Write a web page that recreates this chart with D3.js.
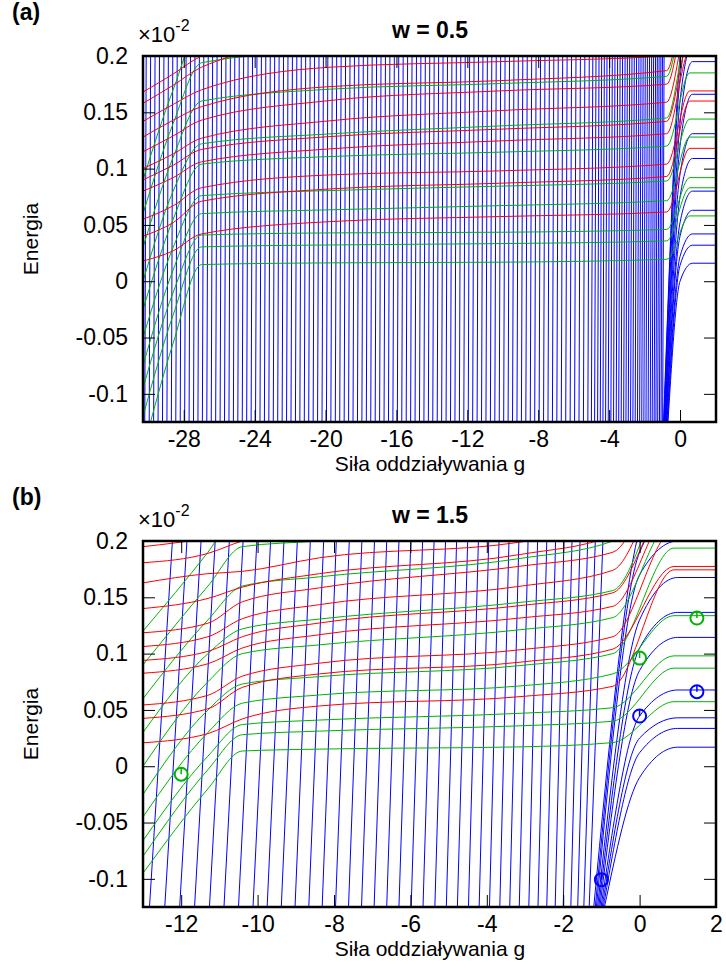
<!DOCTYPE html>
<html>
<head>
<meta charset="utf-8">
<script src="https://cdn.jsdelivr.net/npm/d3@7"></script>
<style>
body { margin: 0; background: #fff; }
text { font-family: "Liberation Sans", Arial, Helvetica, sans-serif; }
</style>
</head>
<body>
<script>
// ---------- data (energies in units of 1e-2) ----------
var yTicks = [-0.1, -0.05, 0, 0.05, 0.1, 0.15, 0.2];
var yTickLabels = ["-0.1", "-0.05", "0", "0.05", "0.1", "0.15", "0.2"];
var xTicksA = [-28, -24, -20, -16, -12, -8, -4, 0];
var xTicksB = [-12, -10, -8, -6, -4, -2, 0, 2];

// panel (a): steep blue lines, g at the bottom edge (E=-0.125)
var blueBotA = [-30.2,-29.95,-29.7,-29.45,-29.2,-28.95,-28.7,-28.45,-28.2,-27.95,
  -27.7,-27.45,-27.2,-26.95,-26.7,-26.45,-26.2,-25.95,-25.7,-25.45,
  -25.2,-24.95,-24.7,-24.45,-24.2,-23.95,-23.7,-23.45,-23.2,-22.95,
  -22.7,-22.45,-22.2,-21.95,-21.7,-21.45,-21.2,-20.95,-20.7,-20.45,
  -20.2,-19.95,-19.7,-19.45,-19.2,-18.95,-18.7,-18.45,-18.2,-17.95,
  -17.7,-17.45,-17.2,-16.95,-16.7,-16.45,-16.2,-15.95,-15.7,-15.45,
  -15.2,-14.95,-14.7,-14.45,-14.2,-13.95,-13.7,-13.45,-13.2,-12.95,
  -12.7,-12.45,-12.2,-11.95,-11.7,-11.45,-11.2,-10.95,-10.7,-10.45,
  -10.2,-9.95,-9.7,-9.45,-9.2,-8.95,-8.7,-8.45,-8.2,-7.95,
  -7.7,-7.45,-7.2,-6.95,-6.7,-6.45,-6.2,-5.95,-5.7,-5.45,
  -5.2,-5.0,-4.82,-4.65,-4.5,-4.35,-4.2,-4.05,-3.9,-3.75,
  -3.6,-3.46,-3.32,-3.18,-3.05,-2.92,-2.79,-2.66,-2.53,-2.4,
  -2.28,-2.16,-2.04,-1.92,-1.8,-1.68,-1.57,-1.46,-1.36,-1.26,-1.16,-1.07,-0.98];
var blueShiftA = 0.08; // g shift of those lines between bottom and top edge

// panel (a): level curves, value at each knot g
var knotsA = [-30.3, -28.6, -27.0, -19.8, -10.2, -0.75, 0.55, 2.03];
var kindA  = "gggrggrrgrrgrrgrrgrrg";
var aLeft  = [-0.15,-0.12,-0.095,.018,-0.075,-0.05,.04,.055,-0.025,.08,.09,0.0,.1,.115,.03,.128,.142,.06,.158,.168,.09];
var aK1    = [-0.055,-0.03,-0.01,.027,.01,.03,.052,.067,.055,.092,.103,.08,.113,.129,.11,.143,.157,.14,.174,.184,.17];
var aK2    = [.0148,.0305,.041,.042,.06,.076,.071,.083,.104,.106,.117,.122,.127,.143,.16,.155,.17,.194,.19,.2,.228];
var aMid1  = [.0163,.0322,.0429,.0529,.0634,.0805,.0819,.0944,.1107,.1175,.1284,.1308,.1424,.1604,.1705,.1728,.190,.205,.215,.225,.24];
var aMid2  = [.0169,.0334,.0435,.0574,.0671,.0844,.087,.098,.1146,.1246,.135,.1379,.1515,.169,.1755,.1781,.195,.21,.222,.232,.248];
var aPre   = [.0195,.0358,.046,.0615,.0715,.089,.093,.104,.12,.131,.142,.145,.159,.175,.182,.187,.2,.215,.228,.24,.255];
var aRight = [.058,.083,.092,.118,.128,.144,.160,.169,.185,.205,.215,.225,.235,.25,.26,.27,.29,.3,.31,.32,.33];

// panel (a): blue fan near g=0: bottom g, E at g=0, final level
var fanBotA = [-0.93,-0.91,-0.89,-0.87,-0.85,-0.83,-0.81,-0.79,-0.77,-0.74,-0.71,-0.68];
var fanZeroA = [.2,.18,.16,.14,.12,.095,.075,.052,.04,.022,.014,.0];
var fanLevelA = [.27,.23,.21,.195,.166,.131,.109,.080,.063,.042,.032,.016];
var fanKneeA = 0.7;

// panel (b)
var blueBotB = [-12.83,-12.43,-12.04,-11.65,-11.26,-10.88,-10.5,-10.12,-9.75,-9.38,-9.02,-8.66,-8.31,-7.96,-7.62,-7.28,-6.95,-6.62,-6.3,-5.98,-5.67,-5.36,-5.06,-4.77,-4.48,-4.2,-3.93,-3.66,-3.4,-3.15,-2.9,-2.66,-2.43,-2.21,-2.0,-1.8,-1.62,-1.46,-1.32];
var blueTopB = [-12.23,-11.85,-11.48,-11.11,-10.74,-10.38,-10.02,-9.66,-9.31,-8.96,-8.62,-8.27,-7.94,-7.6,-7.27,-6.94,-6.62,-6.3,-5.99,-5.68,-5.38,-5.08,-4.79,-4.5,-4.22,-3.95,-3.68,-3.42,-3.16,-2.92,-2.67,-2.43,-2.2,-1.98,-1.77,-1.56,-1.36,-1.16,-0.96];

var knotsB = [-13, -11.3, -10.4, -8.38, -3.13, -0.7, 0.9, 2];
var kindB  = "gggrggrrgrrgrrgrrgrrg";
var bLeft  = [-0.095,-0.08,-0.066,.0208,-0.045,-0.025,.0425,.0544,0.0,.0826,.094,.03,.1063,.1185,.06,.14,.1628,.09,.1807,.195,.12];
var bK1    = [-0.02,-0.003,.009,.029,.03,.05,.051,.063,.075,.091,.102,.1,.115,.127,.13,.149,.171,.16,.189,.203,.19];
var bK2    = [.0135,.028,.037,.042,.056,.073,.07,.08,.1,.105,.115,.122,.131,.146,.16,.159,.173,.195,.2,.21,.23];
var bMid1  = [.0152,.0312,.041,.0535,.0633,.0796,.082,.0915,.1078,.1168,.1272,.1307,.1435,.1584,.1682,.171,.1851,.2,.21,.22,.235];
var bMid2  = [.0172,.0359,.047,.0618,.0713,.0894,.0924,.1034,.1212,.1316,.1426,.1455,.1598,.1776,.1845,.188,.199,.215,.225,.235,.25];
var bPre   = [.021,.04,.052,.071,.082,.1,.104,.115,.132,.142,.154,.156,.174,.19,.2,.205,.215,.23,.24,.25,.265];
var bRight = [.0573,.0871,.098,.1744,.1337,.1937,.1774,.21,.22,.23,.24,.25,.26,.27,.28,.29,.3,.31,.32,.33,.34];

var fanBotB = [-1.2,-1.16,-1.13,-1.1,-1.07,-1.04,-1.01,-0.98,-0.95,-0.92];
var fanZeroB = [.21,.19,.17,.13,.105,.085,.0446,.025,.012,-.01];
var fanLevelB = [.27,.23,.2,.1676,.1366,.1144,.0677,.043,.0336,.0169];
var fanKneeB = 1.0;

// marked points in panel (b)
var circGreenB = [[1.5, .1316], [0, .096], [-12, -.0071]];
var circBlueB = [[1.5, .0662], [0, .0446], [-1, -.1007]];

// ---------- drawing ----------
var W = 726, H = 974;
var colors = {r: "#ff0000", g: "#00b400", b: "#0000ff"};

var svg = d3.select("body").append("svg")
    .attr("width", W)
    .attr("height", H);

function drawPanel(p) {
    var x = d3.scaleLinear().domain(p.xDomain).range([143, 716]);
    var y = d3.scaleLinear().domain([-0.125, 0.2]).range([p.bottom, p.top]);
    var line = d3.line()
        .x(d => x(d[0]))
        .y(d => y(d[1]))
        .curve(d3.curveMonotoneX);

    svg.append("clipPath").attr("id", "clip" + p.id)
        .append("rect")
        .attr("x", 143).attr("y", p.top)
        .attr("width", 716 - 143).attr("height", p.bottom - p.top);

    var g = svg.append("g").attr("clip-path", "url(#clip" + p.id + ")");

    // steep blue lines
    g.selectAll(".steep").data(p.blueBot)
        .enter().append("line")
        .attr("x1", d => x(d))
        .attr("y1", y(-0.125))
        .attr("x2", (d, i) => x(p.blueTop[i]))
        .attr("y2", y(0.2))
        .style("stroke", colors.b)
        .style("stroke-width", 1);

    // blue fan bending into the g>0 levels
    var fan = p.fanBot.map((d, i) => [[d, -0.125], [0, p.fanZero[i]],
        [p.fanKnee, p.fanLevel[i]], [p.xDomain[1], p.fanLevel[i]]]);
    g.selectAll(".fan").data(fan)
        .enter().append("path")
        .attr("d", line)
        .style("fill", "none")
        .style("stroke", colors.b)
        .style("stroke-width", 1);

    // level curves, green first then red
    var curves = p.kind.split("").map((k, i) => ({
        k: k,
        pts: p.knots.map((kg, j) => [kg, p.cols[j][i]])
    }));
    ["g", "r"].forEach(function (k) {
        g.selectAll(".c" + k).data(curves.filter(c => c.k === k))
            .enter().append("path")
            .attr("d", c => line(c.pts))
            .style("fill", "none")
            .style("stroke", colors[k])
            .style("stroke-width", 1);
    });

    // circles
    if (p.circles) {
        p.circles.forEach(function (c) {
            var cg = svg.selectAll(null).data(c.pts).enter().append("g")
                .attr("transform", d => "translate(" + x(d[0]) + "," + y(d[1]) + ")");
            cg.append("circle").attr("r", 6.5)
                .style("fill", "none").style("stroke", colors[c.k]).style("stroke-width", 2);
            cg.append("line").attr("x1", 0).attr("x2", 0).attr("y1", -6.5).attr("y2", 0)
                .style("stroke", colors[c.k]).style("stroke-width", 1.5);
        });
    }

    // axes with inward ticks, mirrored
    var fs = "23px";
    var xb = svg.append("g").attr("transform", "translate(0," + p.bottom + ")")
        .call(d3.axisBottom(x).tickValues(p.xTicks).tickSize(-12).tickPadding(9).tickFormat(d => String(d)));
    var xt = svg.append("g").attr("transform", "translate(0," + p.top + ")")
        .call(d3.axisTop(x).tickValues(p.xTicks).tickSize(-12).tickFormat(""));
    var yl = svg.append("g").attr("transform", "translate(143,0)")
        .call(d3.axisLeft(y).tickValues(yTicks).tickSize(-12).tickPadding(15)
            .tickFormat((d, i) => yTickLabels[i]));
    var yr = svg.append("g").attr("transform", "translate(716,0)")
        .call(d3.axisRight(y).tickValues(yTicks).tickSize(-12).tickFormat(""));
    [xb, xt, yl, yr].forEach(function (a) {
        a.select(".domain").remove();
        a.selectAll(".tick line").style("stroke", "#000").style("stroke-width", 1);
        a.selectAll("text").style("font-size", fs).style("fill", "#000")
            .style("font-family", '"Liberation Sans", Arial, sans-serif');
    });

    svg.append("rect")
        .attr("x", 143).attr("y", p.top)
        .attr("width", 716 - 143).attr("height", p.bottom - p.top)
        .style("fill", "none").style("stroke", "#000").style("stroke-width", 2.5);

    // texts
    svg.append("text").attr("x", 12).attr("y", p.top - 36)
        .style("font-size", "23px").style("font-weight", "bold").text(p.label);
    svg.append("text").attr("x", 430).attr("y", p.top - 18)
        .attr("text-anchor", "middle")
        .style("font-size", "23px").style("font-weight", "bold").text(p.title);
    var mul = svg.append("text").attr("x", 138).attr("y", p.top - 14).style("font-size", "22px");
    mul.append("tspan").text("\u00d710");
    mul.append("tspan").attr("dy", -11).style("font-size", "16px").text("-2");
    svg.append("text")
        .attr("transform", "translate(38," + ((p.top + p.bottom) / 2) + ") rotate(-90)")
        .attr("text-anchor", "middle")
        .style("font-size", "21px").text("Energia");
    svg.append("text").attr("x", 430).attr("y", p.bottom + 49)
        .attr("text-anchor", "middle")
        .style("font-size", "21px").text("Si\u0142a oddzia\u0142ywania g");
}

drawPanel({
    id: "a", top: 56, bottom: 422, xDomain: [-30.3, 2.03], xTicks: xTicksA,
    label: "(a)", title: "w = 0.5",
    blueBot: blueBotA, blueTop: blueBotA.map(d => d + blueShiftA),
    fanBot: fanBotA, fanZero: fanZeroA, fanLevel: fanLevelA, fanKnee: fanKneeA,
    knots: knotsA, kind: kindA, cols: [aLeft, aK1, aK2, aMid1, aMid2, aPre, aRight, aRight]
});
drawPanel({
    id: "b", top: 541, bottom: 907, xDomain: [-13, 2], xTicks: xTicksB,
    label: "(b)", title: "w = 1.5",
    blueBot: blueBotB, blueTop: blueTopB,
    fanBot: fanBotB, fanZero: fanZeroB, fanLevel: fanLevelB, fanKnee: fanKneeB,
    knots: knotsB, kind: kindB, cols: [bLeft, bK1, bK2, bMid1, bMid2, bPre, bRight, bRight],
    circles: [{k: "g", pts: circGreenB}, {k: "b", pts: circBlueB}]
});
</script>
</body>
</html>
